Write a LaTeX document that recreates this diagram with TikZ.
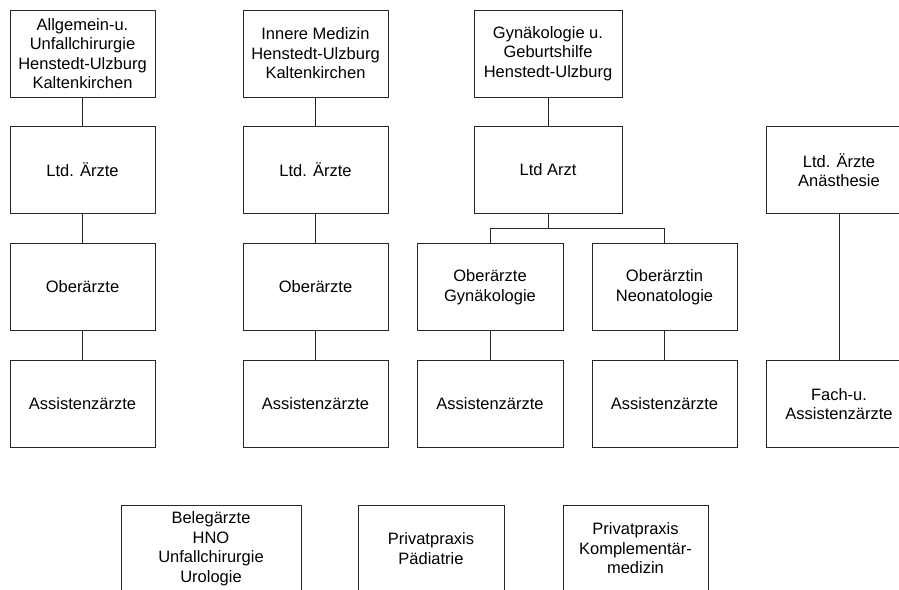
\documentclass[tikz,border=0pt]{standalone}
\usepackage{fontspec}
\setmainfont{Liberation Sans}
\begin{document}
\begin{tikzpicture}[x=1pt,y=-1pt,
  orgbox/.style={draw=black!85, line width=0.9pt, fill=white, align=center,
    minimum width=#1, minimum height=87pt, inner sep=0pt,
    font=\fontsize{16.5}{19.5}\selectfont},
  orgbox/.default=145pt,
  link/.style={draw=black!85, line width=0.9pt}]
\useasboundingbox (0,0) rectangle (899,589);
\clip (0,0) rectangle (899,589);

% column 1: Allgemein- und Unfallchirurgie
\node[orgbox] (c1a) at (82.5,53.5) {Allgemein-u.\\Unfallchirurgie\\Henstedt-Ulzburg\\Kaltenkirchen};
\node[orgbox] (c1b) at (82.5,170) {Ltd. Ärzte};
\node[orgbox] (c1c) at (82.5,287) {Oberärzte};
\node[orgbox] (c1d) at (82.5,404) {Assistenzärzte};
\draw[link] (c1a) -- (c1b);
\draw[link] (c1b) -- (c1c);
\draw[link] (c1c) -- (c1d);

% column 2: Innere Medizin
\node[orgbox] (c2a) at (315.5,53.5) {Innere Medizin\\Henstedt-Ulzburg\\Kaltenkirchen};
\node[orgbox] (c2b) at (315.5,170) {Ltd. Ärzte};
\node[orgbox] (c2c) at (315.5,287) {Oberärzte};
\node[orgbox] (c2d) at (315.5,404) {Assistenzärzte};
\draw[link] (c2a) -- (c2b);
\draw[link] (c2b) -- (c2c);
\draw[link] (c2c) -- (c2d);

% column 3: Gynäkologie und Geburtshilfe
\node[orgbox=148pt] (c3a) at (548,53.5) {Gynäkologie u.\\Geburtshilfe\\Henstedt-Ulzburg};
\node[orgbox=148pt] (c3b) at (548,170) {Ltd Arzt};
\node[orgbox=146pt] (gyn) at (490,287) {Oberärzte\\Gynäkologie};
\node[orgbox] (neo) at (664.5,287) {Oberärztin\\Neonatologie};
\node[orgbox=146pt] (gynas) at (490,404) {Assistenzärzte};
\node[orgbox] (neoas) at (664.5,404) {Assistenzärzte};
\draw[link] (c3a) -- (c3b);
\coordinate (split) at (548,228.5);
\draw[link] (c3b.south) -- (split);
\draw[link] (split) -| (gyn.north);
\draw[link] (split) -| (neo.north);
\draw[link] (gyn) -- (gynas);
\draw[link] (neo) -- (neoas);

% column 4: Anästhesie
\node[orgbox=146pt] (ana) at (839,170) {Ltd. Ärzte\\Anästhesie};
\node[orgbox=146pt] (fach) at (839,404) {Fach-u.\\Assistenzärzte};
\draw[link] (ana) -- (fach);

% bottom row: independent units
\node[orgbox=180pt] (beleg) at (211,548.5) {Belegärzte\\HNO\\Unfallchirurgie\\Urologie};
\node[orgbox=146pt] (paed) at (431,548.5) {Privatpraxis\\Pädiatrie};
\node[orgbox] (kompl) at (635.5,548.5) {Privatpraxis\\Komplementär-\\medizin};
\end{tikzpicture}
\end{document}
